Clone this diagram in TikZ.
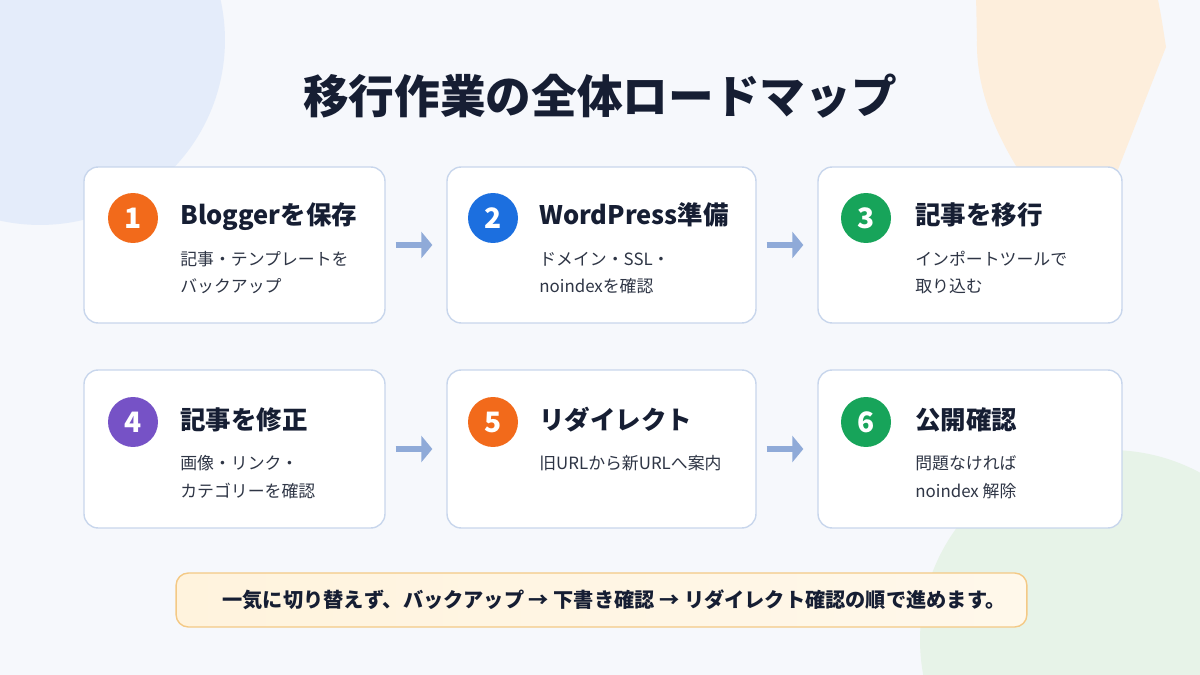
\documentclass[tikz,border=0pt]{standalone}
\usepackage{fontspec}
\setmainfont{Noto Sans CJK JP}
\usetikzlibrary{arrows.meta,shapes}

\definecolor{bgpaper}{HTML}{F6F8FC}
\definecolor{blobblue}{HTML}{E4ECFA}
\definecolor{blobpeach}{HTML}{FDEEDC}
\definecolor{blobgreen}{HTML}{E7F3E8}
\definecolor{cardline}{HTML}{C8D6EC}
\definecolor{arrowblue}{HTML}{8FAAD8}
\definecolor{inkdark}{HTML}{161E33}
\definecolor{inkbody}{HTML}{2E3545}
\definecolor{stepone}{HTML}{F26A1B}
\definecolor{steptwo}{HTML}{1C6FDF}
\definecolor{stepthree}{HTML}{17A45A}
\definecolor{stepfour}{HTML}{7652C6}
\definecolor{notefill}{HTML}{FFF3DD}
\definecolor{noteline}{HTML}{F4C985}

\tikzset{
  card/.style={draw=cardline, line width=0.8pt, fill=white, rounded corners=8pt,
    minimum height=3.12cm, inner sep=0pt},
  stepnum/.style={circle, minimum size=1cm, inner sep=0pt, text=white,
    font=\fontsize{16}{16}\selectfont\bfseries},
  steptitle/.style={anchor=base west, inner sep=0pt, text=inkdark,
    font=\fontsize{14.5}{16}\selectfont\bfseries},
  stepbody/.style={anchor=base west, inner sep=0pt, align=left, text=inkbody,
    font=\fontsize{9.6}{15.9}\selectfont},
  flow/.style={draw=arrowblue, line width=0.12cm, shorten <=0.2cm, shorten >=0.28cm,
    -{Triangle[length=0.22cm, width=0.52cm]}},
  note/.style={draw=noteline, line width=0.8pt, left color=notefill, right color=notefill!60!white,
    rounded corners=7pt, minimum width=17.02cm, minimum height=1.08cm}
}

\begin{document}
\begin{tikzpicture}[x=0.02cm,y=-0.02cm]
\useasboundingbox (0,0) rectangle (1200,675);
\clip (0,0) rectangle (1200,675);
\fill[bgpaper] (0,0) rectangle (1200,675);

% soft shapes behind everything
\fill[blobblue] (40,40) circle [radius=3.7cm];
\fill[blobgreen] (1110,640) circle [radius=3.8cm];
\fill[blobpeach] (976,-5) -- (1157,-5) .. controls (1161,15) .. (1166,47) -- (1108,195)
  .. controls (1080,220) and (1045,210) .. (1025,180)
  .. controls (992,130) and (976,85) .. (977,40) -- cycle;

\node[anchor=base, inner sep=0pt, text=inkdark, font=\fontsize{26}{28}\selectfont\bfseries]
  (heading) at (600,114) {移行作業の全体ロードマップ};

% cards
\node[card, minimum width=6.02cm] (card1) at (234.5,245) {};
\node[card, minimum width=6.18cm] (card2) at (601.5,245) {};
\node[card, minimum width=6.08cm] (card3) at (970,245) {};
\node[card, minimum width=6.02cm, minimum height=3.16cm] (card4) at (234.5,449) {};
\node[card, minimum width=6.18cm, minimum height=3.16cm] (card5) at (601.5,449) {};
\node[card, minimum width=6.08cm, minimum height=3.16cm] (card6) at (970,449) {};

\node[stepnum, fill=stepone] (num1) at (133,218) {1};
\node[stepnum, fill=steptwo] (num2) at (493,218) {2};
\node[stepnum, fill=stepthree] (num3) at (866,218) {3};
\node[stepnum, fill=stepfour] (num4) at (133,422) {4};
\node[stepnum, fill=stepone] (num5) at (493,422) {5};
\node[stepnum, fill=stepthree] (num6) at (866,422) {6};

\node[steptitle] (title1) at (180,225) {Bloggerを保存};
\node[steptitle] (title2) at (539,225) {WordPress準備};
\node[steptitle] (title3) at (915,225) {記事を移行};
\node[steptitle] (title4) at (180,429) {記事を修正};
\node[steptitle] (title5) at (539,429) {リダイレクト};
\node[steptitle] (title6) at (915,429) {公開確認};

% two-line bodies sit on their last baseline
\node[stepbody] (body1) at (180,293) {記事・テンプレートを\\バックアップ};
\node[stepbody] (body2) at (539,293) {ドメイン・SSL・\\noindexを確認};
\node[stepbody] (body3) at (915,293) {インポートツールで\\取り込む};
\node[stepbody] (body4) at (180,497) {画像・リンク・\\カテゴリーを確認};
\node[stepbody] (body5) at (539,469) {旧URLから新URLへ案内};
\node[stepbody] (body6) at (915,497) {問題なければ\\noindex 解除};

\draw[flow] (card1) -- (card2);
\draw[flow] (card2) -- (card3);
\draw[flow] (card4) -- (card5);
\draw[flow] (card5) -- (card6);

\node[note] (note) at (601.5,600) {};
\node[inner sep=0pt, text=inkdark, font=\fontsize{11.5}{12}\selectfont\bfseries]
  (notetext) at (614,600) {一気に切り替えず、バックアップ → 下書き確認 → リダイレクト確認の順で進めます。};
\end{tikzpicture}
\end{document}
